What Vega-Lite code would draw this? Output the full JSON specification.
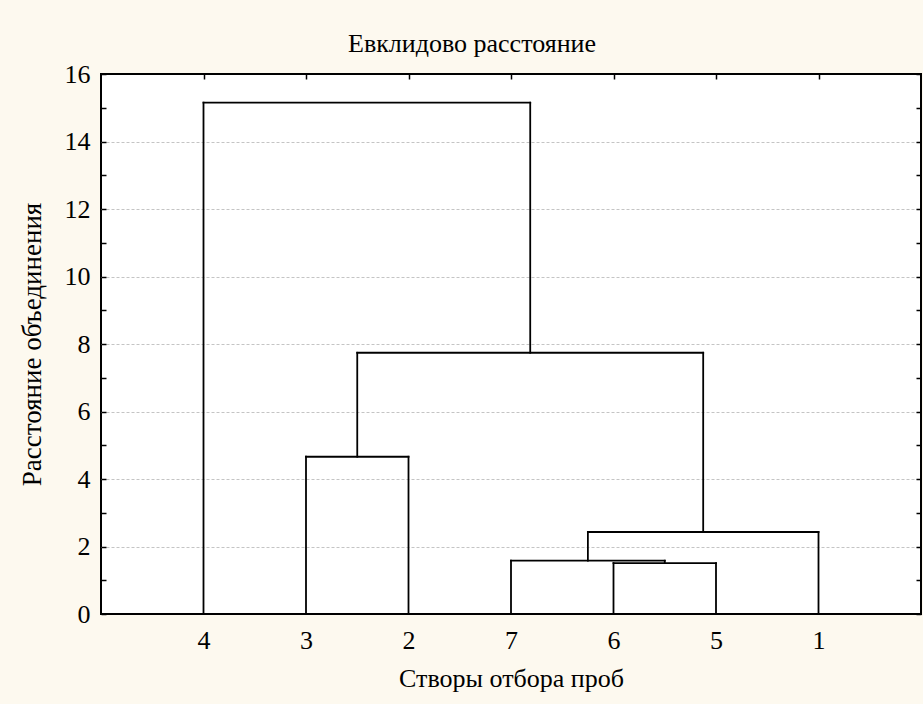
{
  "$schema": "https://vega.github.io/schema/vega-lite/v6.json",
  "width": 820,
  "height": 540,
  "autosize": {"type": "none"},
  "padding": {"left": 101, "top": 74, "right": 2, "bottom": 90},
  "background": "#FDF9EF",
  "config": {
    "font": "Liberation Serif",
    "view": {"stroke": "#000000", "strokeWidth": 2, "fill": "#ffffff"}
  },
  "title": {
    "text": "Евклидово расстояние",
    "font": "Liberation Serif",
    "fontSize": 26,
    "fontWeight": "normal",
    "color": "#000000",
    "anchor": "middle",
    "frame": "group",
    "dx": -39,
    "offset": 4
  },
  "data": {
    "values": [
      {"x": 1, "x2": 1, "y": 0, "y2": 15.15},
      {"x": 1, "x2": 4.1875, "y": 15.15, "y2": 15.15},
      {"x": 4.1875, "x2": 4.1875, "y": 7.74, "y2": 15.15},
      {"x": 2, "x2": 2, "y": 0, "y2": 4.66},
      {"x": 2, "x2": 3, "y": 4.66, "y2": 4.66},
      {"x": 3, "x2": 3, "y": 0, "y2": 4.66},
      {"x": 2.5, "x2": 2.5, "y": 4.66, "y2": 7.74},
      {"x": 2.5, "x2": 5.875, "y": 7.74, "y2": 7.74},
      {"x": 5.875, "x2": 5.875, "y": 2.43, "y2": 7.74},
      {"x": 5, "x2": 5, "y": 0, "y2": 1.51},
      {"x": 5, "x2": 6, "y": 1.51, "y2": 1.51},
      {"x": 6, "x2": 6, "y": 0, "y2": 1.51},
      {"x": 4, "x2": 4, "y": 0, "y2": 1.58},
      {"x": 4, "x2": 5.5, "y": 1.58, "y2": 1.58},
      {"x": 5.5, "x2": 5.5, "y": 1.51, "y2": 1.58},
      {"x": 4.75, "x2": 4.75, "y": 1.58, "y2": 2.43},
      {"x": 4.75, "x2": 7, "y": 2.43, "y2": 2.43},
      {"x": 7, "x2": 7, "y": 0, "y2": 2.43}
    ]
  },
  "layer": [
    {
      "mark": {"type": "rule", "color": "#000000", "strokeWidth": 1.8, "strokeCap": "square"},
      "encoding": {
        "x": {
          "field": "x", "type": "quantitative",
          "scale": {"domain": [0, 8], "nice": false, "zero": false},
          "axis": {
            "orient": "bottom",
            "values": [1, 2, 3, 4, 5, 6, 7],
            "labelExpr": "['', '4', '3', '2', '7', '6', '5', '1'][datum.value]",
            "ticks": false,
            "domain": false,
            "grid": false,
            "labelFont": "Liberation Serif",
            "labelFontSize": 26,
            "labelColor": "#000000",
            "labelPadding": 13,
            "title": "Створы отбора проб",
            "titleFont": "Liberation Serif",
            "titleFontSize": 26,
            "titleFontWeight": "normal",
            "titleColor": "#000000",
            "titlePadding": 12
          }
        },
        "x2": {"field": "x2"},
        "y": {
          "field": "y", "type": "quantitative",
          "scale": {"domain": [0, 16], "nice": false, "zero": true},
          "axis": {
            "orient": "left",
            "values": [0, 1, 2, 3, 4, 5, 6, 7, 8, 9, 10, 11, 12, 13, 14, 15, 16],
            "labelExpr": "datum.value % 2 == 0 ? datum.label : ''",
            "tickSize": -5,
            "tickColor": "#000000",
            "tickWidth": 1.5,
            "domain": false,
            "grid": true,
            "gridColor": "#c4c4c4",
            "gridDash": [3, 2],
            "gridWidth": 1,
            "gridOpacity": {"condition": {"test": "datum.value % 2 == 0 && datum.value > 0 && datum.value < 16", "value": 1}, "value": 0},
            "labelFont": "Liberation Serif",
            "labelFontSize": 26,
            "labelColor": "#000000",
            "labelPadding": 16,
            "title": "Расстояние объединения",
            "titleFont": "Liberation Serif",
            "titleFontSize": 27,
            "titleFontWeight": "normal",
            "titleColor": "#000000",
            "titlePadding": 18
          }
        },
        "y2": {"field": "y2"}
      }
    },
    {
      "mark": {"type": "rule", "opacity": 0},
      "encoding": {
        "x": {
          "field": "x", "type": "quantitative",
          "scale": {"domain": [0, 8], "nice": false, "zero": false},
          "axis": {
            "orient": "top",
            "values": [1, 2, 3, 4, 5, 6, 7],
            "labels": false,
            "tickSize": -5,
            "tickColor": "#000000",
            "tickWidth": 1.5,
            "domain": false,
            "grid": false,
            "title": null
          }
        },
        "y": {
          "field": "y", "type": "quantitative",
          "scale": {"domain": [0, 16], "nice": false, "zero": true},
          "axis": {
            "orient": "right",
            "values": [0, 1, 2, 3, 4, 5, 6, 7, 8, 9, 10, 11, 12, 13, 14, 15, 16],
            "labels": false,
            "tickSize": -5,
            "tickColor": "#000000",
            "tickWidth": 1.5,
            "domain": false,
            "grid": false,
            "title": null
          }
        }
      }
    }
  ],
  "resolve": {"axis": {"x": "independent", "y": "independent"}}
}
